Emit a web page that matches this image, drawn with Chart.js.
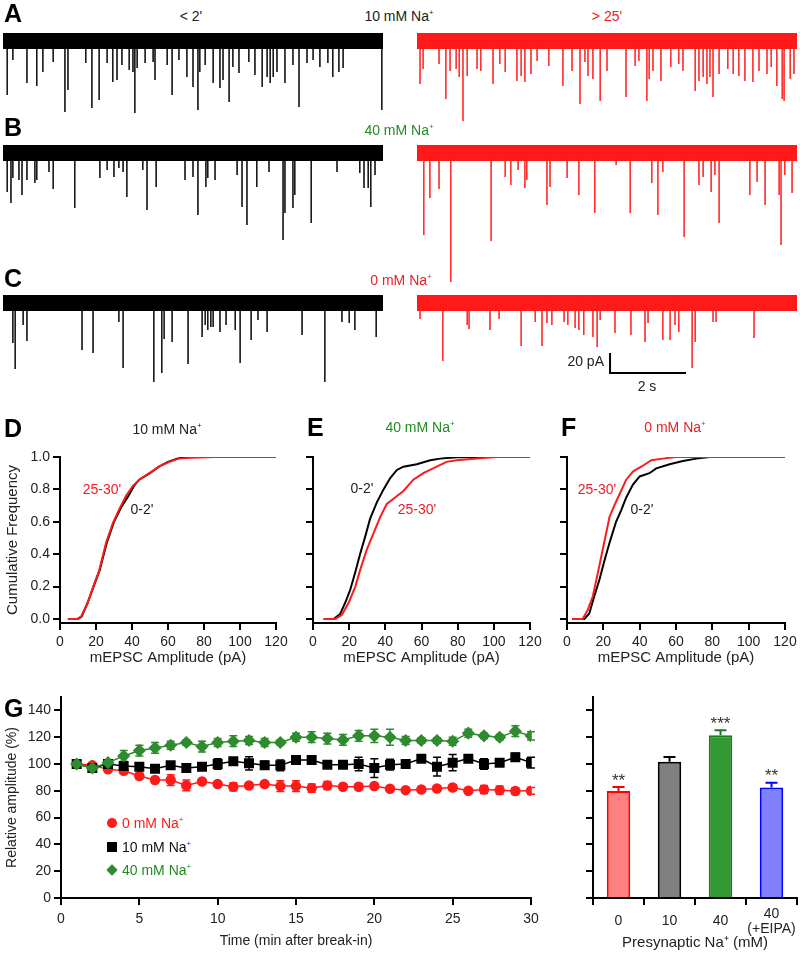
<!DOCTYPE html>
<html>
<head>
<meta charset="utf-8">
<script src="https://cdn.jsdelivr.net/npm/chart.js@4.4.1/dist/chart.umd.min.js"></script>
<style>
  body { margin: 0; background: #fff; }
  #fig { position: relative; width: 800px; height: 954px; overflow: hidden; font-family: Arial, "Liberation Sans", sans-serif; color: #222; }
  canvas { position: absolute; }
  .t { position: absolute; transform: translate(-50%, -50%); white-space: nowrap; font-size: 14px; line-height: 1; }
  .r { transform: translate(-100%, -50%); }
  .L { position: absolute; transform: translateY(-50%); font-weight: bold; font-size: 25px; line-height: 1; color: #000; }
  sup { font-size: 8px; vertical-align: 6px; line-height: 0; }
  .mk { position: absolute; transform: translate(-50%, -50%); }
  .lg { position: absolute; transform: translateY(-50%); font-size: 14px; line-height: 1; white-space: nowrap; }
</style>
</head>
<body>
<div id="fig">
  <canvas id="a0" width="380" height="100" style="left:3px;top:25px"></canvas>
  <canvas id="a1" width="380" height="100" style="left:417px;top:25px"></canvas>
  <canvas id="b0" width="380" height="150" style="left:3px;top:137px"></canvas>
  <canvas id="b1" width="380" height="150" style="left:417px;top:137px"></canvas>
  <canvas id="c0" width="380" height="100" style="left:3px;top:287px"></canvas>
  <canvas id="c1" width="380" height="100" style="left:417px;top:287px"></canvas>
  <canvas id="d" width="290" height="230" style="left:0;top:440px"></canvas>
  <canvas id="e" width="254" height="230" style="left:290px;top:440px"></canvas>
  <canvas id="f" width="256" height="230" style="left:544px;top:440px"></canvas>
  <canvas id="g1" width="545" height="274" style="left:0;top:680px"></canvas>
  <canvas id="g2" width="240" height="274" style="left:560px;top:680px"></canvas>

  <div class="L" style="left:4px;top:13px">A</div>
  <div class="L" style="left:4px;top:127px">B</div>
  <div class="L" style="left:4px;top:278px">C</div>
  <div class="L" style="left:4px;top:428px">D</div>
  <div class="L" style="left:307px;top:427px">E</div>
  <div class="L" style="left:561px;top:427px">F</div>
  <div class="L" style="left:4px;top:708px">G</div>

  <div class="t" style="left:191px;top:16px">&lt; 2'</div>
  <div class="t" style="left:399px;top:16px">10 mM Na<sup>+</sup></div>
  <div class="t" style="left:607px;top:16px;color:#ee1c25">&gt; 25'</div>
  <div class="t" style="left:399px;top:130px;color:#228b22">40 mM Na<sup>+</sup></div>
  <div class="t" style="left:401px;top:280px;color:#ee1c25">0 mM Na<sup>+</sup></div>
  <div class="t r" style="left:604px;top:361px">20 pA</div>
  <div class="t" style="left:647px;top:386px">2 s</div>

  <div class="t" style="left:167px;top:429px">10 mM Na<sup>+</sup></div>
  <div class="t" style="left:420px;top:427px;color:#228b22">40 mM Na<sup>+</sup></div>
  <div class="t" style="left:675px;top:427px;color:#ee1c25">0 mM Na<sup>+</sup></div>
  <div class="t" style="left:102px;top:489px;color:#ee1c25">25-30'</div>
  <div class="t" style="left:142px;top:509px">0-2'</div>
  <div class="t" style="left:362px;top:488px">0-2'</div>
  <div class="t" style="left:417px;top:509px;color:#ee1c25">25-30'</div>
  <div class="t" style="left:597px;top:489px;color:#ee1c25">25-30'</div>
  <div class="t" style="left:642px;top:509px">0-2'</div>

  <div class="mk" style="left:112px;top:823px;width:10px;height:10px;border-radius:50%;background:#ff1a1a"></div>
  <div class="lg" style="left:122px;top:823px;color:#ff1a1a">0 mM Na<sup>+</sup></div>
  <div class="mk" style="left:112px;top:847px;width:10px;height:10px;background:#000"></div>
  <div class="lg" style="left:122px;top:847px;color:#111">10 mM Na<sup style="color:#2222ee">+</sup></div>
  <div class="mk" style="left:112px;top:870px;width:8px;height:8px;background:#2e8b2e;transform:translate(-50%,-50%) rotate(45deg)"></div>
  <div class="lg" style="left:122px;top:870px;color:#228b22">40 mM Na<sup>+</sup></div>
</div>

<script>
// ---- A-C: mEPSC traces, [time (s), amplitude (pA)]
const traceSpan = [0, 10];
const spikesA0 = [[0.11,54],[0.26,19],[0.63,42],[0.89,45],[1.05,31],[1.32,21],[1.63,71],[1.71,49],[2.18,22],[2.34,67],[2.53,59],[2.74,22],[2.89,41],[3.00,39],[3.13,24],[3.32,29],[3.42,31],[3.47,72],[3.53,27],[3.74,22],[3.95,21],[4.00,39],[4.32,24],[4.45,54],[4.63,19],[4.84,36],[5.00,46],[5.13,69],[5.18,31],[5.32,24],[5.53,42],[5.71,47],[5.79,39],[5.95,61],[6.05,26],[6.21,32],[6.47,21],[6.63,34],[6.82,46],[6.95,36],[7.03,42],[7.11,36],[7.21,31],[7.42,42],[7.63,24],[7.79,66],[8.00,22],[8.16,19],[8.34,26],[8.55,22],[8.68,36],[8.84,31],[8.95,27],[9.97,69]];
const spikesA1 = [[0.08,43],[0.16,28],[0.58,23],[0.76,58],[0.87,30],[1.03,28],[1.11,36],[1.21,80],[1.32,35],[1.58,28],[1.68,30],[2.00,43],[2.18,23],[2.32,31],[2.63,40],[2.74,35],[2.84,41],[3.00,33],[3.16,20],[3.47,25],[3.84,45],[4.08,30],[4.29,63],[4.42,21],[4.50,35],[4.63,38],[4.82,60],[5.00,30],[5.50,56],[5.74,25],[5.84,20],[6.05,60],[6.11,38],[6.21,30],[6.42,40],[6.68,26],[6.89,23],[7.00,30],[7.32,50],[7.42,40],[7.53,36],[7.63,43],[7.71,36],[7.79,56],[7.95,33],[8.18,28],[8.32,33],[8.47,35],[8.63,40],[8.84,41],[9.00,30],[9.21,33],[9.32,26],[9.47,45],[9.61,58],[9.66,60],[9.82,38],[9.92,33]];
const spikesB0 = [[0.11,39],[0.21,50],[0.26,25],[0.42,27],[0.50,42],[0.63,27],[0.84,30],[0.89,27],[1.21,19],[1.32,36],[1.89,55],[2.55,25],[2.74,17],[2.92,24],[3.05,15],[3.16,19],[3.26,44],[3.68,17],[3.79,57],[4.03,34],[4.79,27],[5.00,24],[5.13,62],[5.34,34],[5.39,25],[5.58,27],[6.16,22],[6.29,54],[6.42,72],[6.68,34],[7.00,19],[7.37,87],[7.42,60],[7.63,55],[7.68,42],[8.11,70],[8.79,19],[9.39,20],[9.50,35],[9.61,35],[9.68,54],[9.79,22]];
const spikesB1 = [[0.18,82],[0.34,45],[0.58,36],[0.89,129],[1.95,88],[2.32,24],[2.47,32],[2.66,17],[2.84,35],[2.89,27],[3.42,52],[3.50,34],[3.95,25],[4.26,42],[4.68,60],[5.24,12],[5.61,60],[6.18,30],[6.34,62],[6.47,19],[7.03,84],[7.42,32],[7.53,24],[7.74,39],[7.84,22],[7.95,70],[8.76,42],[8.95,29],[9.16,52],[9.53,42],[9.58,92],[9.68,22],[9.87,40]];
const spikesC0 = [[0.26,40],[0.32,66],[0.53,22],[0.63,38],[2.08,47],[2.37,50],[3.05,19],[3.16,65],[3.97,79],[4.18,70],[4.24,36],[4.45,39],[4.87,61],[5.24,34],[5.32,22],[5.39,27],[5.47,24],[5.53,24],[5.71,29],[5.87,22],[6.11,27],[6.24,60],[6.53,37],[6.71,17],[6.95,29],[7.87,32],[8.47,79],[8.92,19],[9.11,20],[9.26,27],[9.82,34]];
const spikesC1 = [[0.08,16],[0.68,58],[1.32,22],[1.37,26],[1.92,27],[2.16,16],[2.74,43],[3.11,19],[3.29,43],[3.42,20],[3.55,22],[3.87,19],[3.97,22],[4.16,25],[4.26,27],[4.39,32],[4.63,34],[4.74,44],[4.82,17],[5.21,30],[5.63,32],[6.00,39],[6.08,20],[6.47,37],[6.66,37],[6.79,22],[6.89,29],[7.24,65],[7.32,39],[7.79,19],[7.87,19],[8.87,35]];
const scaleBar = { t0: 5.08, y0: -70, sec: 2, pA: 20 };

// ---- D-F: cumulative distributions, [amplitude (pA), fraction]
const cdfTicks = [0, 0.2, 0.4, 0.6, 0.8, 1.0];
const dBlack = [[5,0],[10,0],[12,0.015],[15,0.09],[19,0.21],[22,0.30],[26,0.47],[30,0.60],[34,0.69],[38,0.76],[41,0.82],[44,0.86],[50,0.90],[55,0.94],[60,0.97],[65,0.99],[70,1],[100,1]];
const dRed = [[4.3,0],[9.8,0],[11.7,0.014],[15.4,0.10],[19.1,0.22],[21.8,0.30],[25.6,0.47],[29.3,0.59],[33,0.68],[36.7,0.76],[40.4,0.82],[44,0.86],[49.6,0.90],[55,0.94],[60.7,0.97],[66,0.99],[73,0.995],[86,1],[120,1]];
const eBlack = [[5.9,0],[11.4,0],[15,0.03],[17.8,0.10],[20.6,0.18],[23.4,0.29],[26,0.40],[28.9,0.51],[31.6,0.62],[35.3,0.72],[39,0.80],[42.7,0.87],[46.4,0.92],[50,0.94],[57.4,0.955],[64.8,0.98],[70.3,0.99],[79.5,0.998],[90.5,1],[105,1]];
const eRed = [[5.9,0],[12.3,0],[16,0.025],[19.7,0.10],[23.4,0.20],[26,0.30],[29.8,0.43],[33.5,0.53],[37.2,0.63],[40.8,0.71],[45.4,0.75],[50,0.79],[55.5,0.86],[61,0.90],[68.4,0.94],[73.9,0.97],[79.5,0.98],[90.5,0.99],[101.6,1],[120,1]];
const fBlack = [[2.8,0],[9.6,0],[12.3,0.035],[15,0.14],[17.8,0.24],[20.6,0.36],[23.4,0.47],[27,0.60],[29.8,0.67],[32.6,0.75],[36.3,0.83],[40,0.88],[45.4,0.90],[49.1,0.93],[56.5,0.955],[63.8,0.975],[71.2,0.99],[78.6,1],[93,1]];
const fRed = [[2.8,0],[8.6,0],[11.4,0.055],[14.2,0.14],[16.9,0.28],[19.7,0.43],[23.4,0.63],[26,0.70],[28.9,0.77],[32.6,0.86],[36.3,0.91],[40.9,0.94],[46.4,0.98],[52.8,0.99],[60,1],[120,1]];

// ---- G: time course (% of first minute) and summary bars
const minutes = [1,2,3,4,5,6,7,8,9,10,11,12,13,14,15,16,17,18,19,20,21,22,23,24,25,26,27,28,29,30];
const red0 = [100,99,96,95,91,88,88,84,87,85,83,84,85,83.5,83.5,82,84,83,83,83.5,81.5,80.5,81,81.7,82.5,80,81,80.5,79.8,80];
const red0Err = [0,1,1.5,2,2,2,4,4,2,2,3,2,2,4,4,3,3,2,2,2,1.5,1,1,1.5,2,1.5,3,3,2.5,2.5];
const black10 = [100,97,100,98.5,98,96.5,99,97,98,100,102,100.5,99,99,103,103,99.5,99.5,100,97,99.5,100,104,98,101,104,100,101,105,101];
const black10Err = [0,1,1,2,2,2,2,3,2,4,2,5,3,4,2,2,2,2,5,7,4,2,2,7,6,2,4,2,3,4];
const green40 = [100,97,101,106,110,112,114,116,113,116,117,117.5,116,116,120,120,119,118,121,121,120,117.5,117.5,117.5,117,123,121,120,124.5,121];
const green40Err = [0,1,2,4,4,4,3,2,4,3,4,3,3,2,3,4,4,4,4,5,6,3,2,2,3,3,2,2,4,3];
const relTicks = [0, 20, 40, 60, 80, 100, 120, 140];
const barLabels = ['0', '10', '40', ['40', '(+EIPA)']];
const barMeans = [79.8, 101.6, 121.4, 82.5];
const barErrs = [3, 3.7, 3.7, 3.5];
const barStars = ['**', '', '***', '**'];

const RED = '#ff1a1a', GREEN = '#2e8b2e';

Chart.defaults.font.family = 'Arial, "Liberation Sans", sans-serif';
Chart.defaults.font.size = 14;
Chart.defaults.color = '#222';
Chart.defaults.animation = false;
Chart.defaults.responsive = false;
Chart.defaults.events = [];
Chart.defaults.plugins.legend.display = false;
Chart.defaults.plugins.tooltip.enabled = false;

// axis look shared by D-G: thick black axis, outward tick marks, no grid
function axis(o) {
  return Object.assign({
    border: { display: true, color: '#000', width: 2 },
    grid: { display: true, drawOnChartArea: false, drawTicks: true, tickLength: 7, color: '#000', lineWidth: 2 },
  }, o);
}
// fixed-size x axis so the plot area lands where the figure has it
const fixX = h => s => { s.height = h; s.paddingLeft = 0; s.paddingRight = 0; };
const xy = arr => arr.map(([x, y]) => ({ x, y }));

// scale bar for the traces, drawn in data units (2 s, 20 pA)
const scaleBarPlugin = {
  id: 'scalebar',
  afterDraw(chart) {
    const { ctx, scales: { x, y } } = chart;
    const x0 = x.getPixelForValue(scaleBar.t0), x1 = x.getPixelForValue(scaleBar.t0 + scaleBar.sec);
    const y0 = y.getPixelForValue(scaleBar.y0), y1 = y.getPixelForValue(scaleBar.y0 + scaleBar.pA);
    ctx.save();
    ctx.strokeStyle = '#000'; ctx.lineWidth = 2;
    ctx.beginPath(); ctx.moveTo(x0, y1); ctx.lineTo(x0, y0); ctx.lineTo(x1, y0); ctx.stroke();
    ctx.restore();
  }
};

function trace(id, spikes, color, yMin, yMax, plugins) {
  const pts = [];
  spikes.forEach(([t, a]) => pts.push({ x: t, y: 0 }, { x: t, y: -a }, { x: t, y: 0 }));
  new Chart(document.getElementById(id), {
    type: 'line',
    data: { datasets: [
      { data: pts, borderColor: color, borderWidth: 1, pointRadius: 0 },
      { data: traceSpan.map(x => ({ x, y: 0 })), borderColor: color, borderWidth: 16, borderCapStyle: 'butt', pointRadius: 0 }
    ] },
    options: {
      layout: { padding: 0, autoPadding: false },
      scales: {
        x: { type: 'linear', min: traceSpan[0], max: traceSpan[1], display: false },
        y: { min: yMin, max: yMax, display: false }
      }
    },
    plugins: plugins || []
  });
}

trace('a0', spikesA0, '#000', -84, 16);
trace('a1', spikesA1, RED, -84, 16);
trace('b0', spikesB0, '#000', -134, 16);
trace('b1', spikesB1, RED, -134, 16);
trace('c0', spikesC0, '#000', -84, 16);
trace('c1', spikesC1, RED, -84, 16, [scaleBarPlugin]);

function cdf(id, black, red, yWidth, padRight, labels) {
  new Chart(document.getElementById(id), {
    type: 'line',
    data: { datasets: [
      { data: xy(red), borderColor: RED, borderWidth: 2, pointRadius: 0 },
      { data: xy(black), borderColor: '#000', borderWidth: 2, pointRadius: 0 }
    ] },
    options: {
      layout: { padding: { top: 17, right: padRight, left: 0, bottom: 0 }, autoPadding: false },
      scales: {
        x: axis({
          type: 'linear', min: 0, max: 120,
          ticks: { stepSize: 20, padding: 4, color: '#222', maxRotation: 0 },
          title: { display: true, text: 'mEPSC Amplitude (pA)', color: '#222', font: { size: 15 }, padding: { top: 4, bottom: 3 } },
          afterFit: fixX(47)
        }),
        y: axis({
          min: -0.025, max: 1,
          afterBuildTicks: s => { s.ticks = cdfTicks.map(v => ({ value: v })); },
          ticks: { display: labels, padding: 3, color: '#222', callback: v => v.toFixed(1) },
          title: { display: labels, text: 'Cumulative Frequency', color: '#222', font: { size: 15 } },
          afterFit: s => { s.width = yWidth; }
        })
      }
    }
  });
}

cdf('d', dBlack, dRed, 60, 14, true);
cdf('e', eBlack, eRed, 23, 14, false);
cdf('f', fBlack, fRed, 23, 15, false);

// error bars from a dataset's "errors" array
const errorBars = {
  id: 'errorBars',
  beforeDatasetsDraw(chart, args, opts) {
    const { ctx } = chart, y = chart.scales.y;
    chart.data.datasets.forEach((ds, di) => {
      if (!ds.errors) return;
      chart.getDatasetMeta(di).data.forEach((el, i) => {
        const e = ds.errors[i];
        if (!e) return;
        const v = typeof ds.data[i] === 'object' ? ds.data[i].y : ds.data[i];
        const top = y.getPixelForValue(v + e);
        const bot = opts.upOnly ? y.getPixelForValue(v) : y.getPixelForValue(v - e);
        ctx.save();
        ctx.strokeStyle = Array.isArray(ds.borderColor) ? ds.borderColor[i] : ds.borderColor;
        ctx.lineWidth = opts.width;
        ctx.beginPath();
        ctx.moveTo(el.x, bot); ctx.lineTo(el.x, top);
        ctx.moveTo(el.x - opts.cap, top); ctx.lineTo(el.x + opts.cap, top);
        if (!opts.upOnly) { ctx.moveTo(el.x - opts.cap, bot); ctx.lineTo(el.x + opts.cap, bot); }
        ctx.stroke();
        ctx.restore();
      });
    });
  }
};

new Chart(document.getElementById('g1'), {
  type: 'line',
  data: { datasets: [
    { data: minutes.map((m, i) => ({ x: m, y: green40[i] })), errors: green40Err, borderColor: GREEN, backgroundColor: GREEN,
      pointStyle: 'rectRot', pointRadius: 5.5, borderWidth: 1.5 },
    { data: minutes.map((m, i) => ({ x: m, y: black10[i] })), errors: black10Err, borderColor: '#000', backgroundColor: '#000',
      pointStyle: 'rect', pointRadius: 6, borderWidth: 1.5 },
    { data: minutes.map((m, i) => ({ x: m, y: red0[i] })), errors: red0Err, borderColor: RED, backgroundColor: RED,
      pointStyle: 'circle', pointRadius: 4.5, borderWidth: 1.5 }
  ] },
  options: {
    layout: { padding: { top: 17, right: 14, left: 0, bottom: 0 }, autoPadding: false },
    plugins: { errorBars: { cap: 4, width: 1.5 } },
    scales: {
      x: axis({
        type: 'linear', min: 0, max: 30,
        ticks: { stepSize: 5, padding: 6, color: '#222', maxRotation: 0 },
        title: { display: true, text: 'Time (min after break-in)', color: '#222', font: { size: 14 } },
        afterFit: fixX(56)
      }),
      y: axis({
        min: 0, max: 150,
        afterBuildTicks: s => { s.ticks = relTicks.map(v => ({ value: v })); },
        ticks: { padding: 3, color: '#222' },
        title: { display: true, text: 'Relative amplitude (%)', color: '#222', font: { size: 14 } },
        afterFit: s => { s.width = 61; }
      })
    }
  },
  plugins: [errorBars]
});

const starsPlugin = {
  id: 'stars',
  afterDatasetsDraw(chart) {
    const { ctx } = chart, y = chart.scales.y;
    chart.getDatasetMeta(0).data.forEach((el, i) => {
      if (!barStars[i]) return;
      ctx.save();
      ctx.fillStyle = '#333';
      ctx.font = '17px Arial, "Liberation Sans", sans-serif';
      ctx.textAlign = 'center';
      ctx.textBaseline = 'middle';
      ctx.fillText(barStars[i], el.x, y.getPixelForValue(barMeans[i] + barErrs[i]) - 6);
      ctx.restore();
    });
  }
};

new Chart(document.getElementById('g2'), {
  type: 'bar',
  data: {
    labels: barLabels,
    datasets: [{
      data: barMeans, errors: barErrs,
      backgroundColor: ['#ff8080', '#808080', '#339933', '#8080ff'],
      borderColor: ['#ff0000', '#000000', '#1e7a1e', '#0000ff'],
      borderWidth: 2, borderSkipped: 'bottom',
      barPercentage: 0.46, categoryPercentage: 1
    }]
  },
  options: {
    layout: { padding: { top: 17, right: 3, left: 0, bottom: 0 }, autoPadding: false },
    plugins: { errorBars: { cap: 6, width: 2, upOnly: true } },
    scales: {
      x: axis({
        offset: true,
        grid: { display: true, offset: true, drawOnChartArea: false, drawTicks: true, tickLength: 7, color: '#000', lineWidth: 2 },
        ticks: { padding: 9, color: '#222', crossAlign: 'center', maxRotation: 0, minRotation: 0, autoSkip: false,
                 font: { size: 14, lineHeight: 1.05 } },
        title: { display: true, text: 'Presynaptic Na⁺ (mM)', color: '#222', font: { size: 15 }, padding: { top: 4, bottom: 2 } },
        afterFit: fixX(56)
      }),
      y: axis({
        min: 0, max: 150,
        afterBuildTicks: s => { s.ticks = relTicks.map(v => ({ value: v })); },
        ticks: { display: false },
        afterFit: s => { s.width = 33; }
      })
    }
  },
  plugins: [errorBars, starsPlugin]
});
</script>
</body>
</html>
